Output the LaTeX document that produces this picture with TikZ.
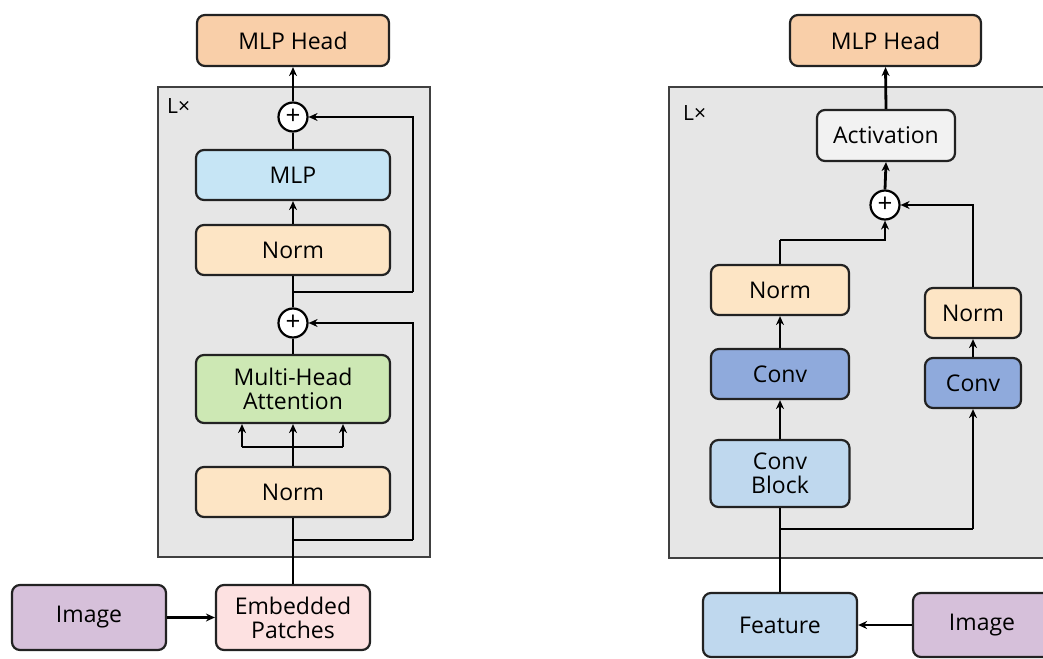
\documentclass[tikz,border=0pt]{standalone}
\usepackage{fontspec}
\setmainfont{Open Sans}
\usetikzlibrary{arrows.meta,calc}
\definecolor{headc}{HTML}{F9CFA9}
\definecolor{normc}{HTML}{FDE5C5}
\definecolor{mlpc}{HTML}{C6E5F5}
\definecolor{mhac}{HTML}{CDE8B4}
\definecolor{imgc}{HTML}{D6C0DA}
\definecolor{embc}{HTML}{FDE1E1}
\definecolor{panelc}{HTML}{E6E6E6}
\definecolor{actc}{HTML}{F2F2F2}
\definecolor{convc}{HTML}{8FAADC}
\definecolor{blockc}{HTML}{BFD8EE}
\definecolor{edgec}{HTML}{222222}
\begin{document}
\begin{tikzpicture}[x=1pt,y=-1pt,
  box/.style={draw=edgec,line width=2.2pt,rounded corners=8pt,align=center,
    inner sep=0pt,font=\fontsize{23}{26}\selectfont},
  panel/.style={draw=black!75,line width=2.2pt,fill=panelc},
  plusnode/.style={circle,draw=black,line width=2.2pt,fill=white,minimum size=29pt,
    inner sep=0pt,font=\fontsize{26}{26}\selectfont},
  conn/.style={line width=2.8pt,draw=black},
  arr/.style={conn,-{Stealth[length=9pt,width=8pt]}},
  lbl/.style={font=\fontsize{21}{22}\selectfont,anchor=west,inner sep=0pt}]
\useasboundingbox (0,0) rectangle (1043,658);
\clip (0,0) rectangle (1043,658);

% ---------- Transformer encoder (left) ----------
\draw[panel] (158,87) rectangle (430,557);
\node[lbl] (lxL) at (167,106) {L×};

\node[box,fill=headc,minimum width=192pt,minimum height=51pt] (headL) at (293,40.5) {MLP Head};
\node[plusnode] (plusA) at (293,117) {+};
\node[box,fill=mlpc,minimum width=194pt,minimum height=50pt] (mlp) at (293,175) {MLP};
\node[box,fill=normc,minimum width=194pt,minimum height=50pt] (normA) at (293,250) {Norm};
\node[plusnode] (plusB) at (293,323) {+};
\node[box,fill=mhac,minimum width=194pt,minimum height=68pt] (mha) at (293,389) {Multi-Head\\[-2pt]Attention};
\node[box,fill=normc,minimum width=194pt,minimum height=50pt] (normB) at (293,492) {Norm};
\node[box,fill=imgc,minimum width=154pt,minimum height=65pt] (imgL) at (89,617.5) {Image};
\node[box,fill=embc,minimum width=154pt,minimum height=65pt] (emb) at (293,617.5) {Embedded\\[-2pt]Patches};

\coordinate (s2) at (293,540);
\coordinate (r2) at (413,540);
\coordinate (s1) at (293,292);
\coordinate (r1) at (413,292);
\coordinate (fm) at (293,447);
\coordinate (fl) at (242,447);
\coordinate (fr) at (343,447);

\draw[arr] (imgL) -- (emb);
\draw[conn] (emb.north) -- (normB.south);
\draw[conn] (s2) -- (r2);
\draw[arr] (r2) |- (plusB.east);
\draw[conn] (normB.north) -- (fm);
\draw[conn] (fl) -- (fr);
\draw[arr] (fl) -- (fl |- mha.south);
\draw[arr] (fm) -- (mha.south);
\draw[arr] (fr) -- (fr |- mha.south);
\draw[conn] (mha.north) -- (plusB.south);
\draw[conn] (plusB.north) -- (normA.south);
\draw[conn] (s1) -- (r1);
\draw[arr] (r1) |- (plusA.east);
\draw[arr] (normA.north) -- (mlp.south);
\draw[conn] (mlp.north) -- (plusA.south);
\draw[arr] (plusA.north) -- (headL.south);

% ---------- Convolutional network (right) ----------
\draw[panel] (669,87) rectangle (1070,558);
\node[lbl] (lxR) at (683,113) {L×};

\node[box,fill=headc,minimum width=191pt,minimum height=51pt] (headR) at (885.5,40.5) {MLP Head};
\node[box,fill=actc,minimum width=138pt,minimum height=51pt] (act) at (886,135.5) {Activation};
\node[plusnode] (plusC) at (885,205) {+};
\node[box,fill=normc,minimum width=138pt,minimum height=50pt] (normC) at (780,290) {Norm};
\node[box,fill=normc,minimum width=96pt,minimum height=50pt] (normD) at (973,313) {Norm};
\node[box,fill=convc,minimum width=138pt,minimum height=50pt] (convC) at (780,374) {Conv};
\node[box,fill=convc,minimum width=96pt,minimum height=50pt] (convD) at (973,383) {Conv};
\node[box,fill=blockc,minimum width=139pt,minimum height=67pt] (cblock) at (780,473.5) {Conv\\[-2pt]Block};
\node[box,fill=blockc,minimum width=154pt,minimum height=64pt] (feat) at (780,625) {Feature};
\node[box,fill=imgc,minimum width=138pt,minimum height=64pt] (imgR) at (982,625) {Image};

\coordinate (s3) at (780,529);
\coordinate (r3) at (973,529);
\coordinate (j1) at (780,240);

\draw[arr] (imgR) -- (feat);
\draw[conn] (feat.north) -- (cblock.south);
\draw[conn] (s3) -- (r3);
\draw[arr] (r3) -- (convD.south);
\draw[arr] (cblock.north) -- (convC.south);
\draw[arr] (convC.north) -- (normC.south);
\draw[arr] (convD.north) -- (normD.south);
\draw[conn] (normC.north) -- (j1);
\draw[arr] (j1) -| (plusC.south);
\draw[arr] (normD.north) |- (plusC.east);
\draw[arr] (plusC.north) -- (act.south);
\draw[arr] (act.north) -- (headR.south);
\end{tikzpicture}
\end{document}
